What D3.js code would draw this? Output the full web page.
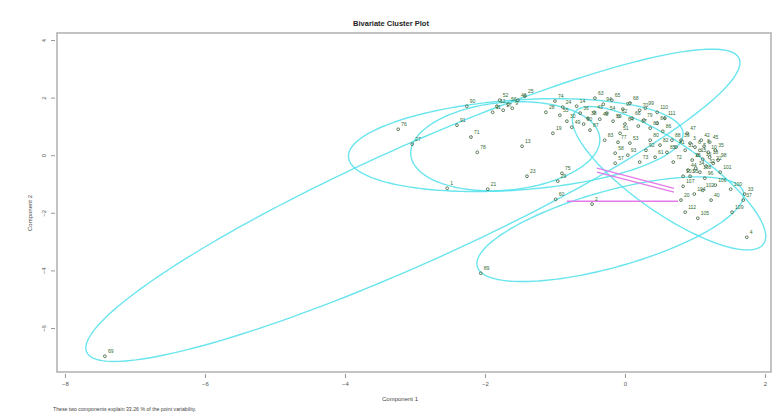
<!DOCTYPE html>
<html>
<head>
<meta charset="utf-8">
<script src="https://cdn.jsdelivr.net/npm/d3@7"></script>
<style>
  html, body { margin: 0; padding: 0; background: #fff; }
  svg { display: block; font-family: "Liberation Sans", Arial, sans-serif; }
</style>
</head>
<body>
<svg id="chart" width="782" height="419"></svg>
<script>
// Observation labels and their scores on the first two principal components
const pointLabels = ["69","76","27","90","91","71","78","1","21","13","23","29","60","2","89",
  "52","46","25","12","56","11","17","9","28","74","30","19","14","24",
  "36","38","43","48","54","59","62","64","66","67","79","81","84","86","94","97","99",
  "51","53","58","57","73","61","83","87","47","72",
  "3","6","7","8","10","15","16","18","22","26","31","32","34","35","39","41","42","44","45",
  "103","107","20","112","105","40","100","33","37","109","4",
  "49","50","55","63","65","68","70","75","77","80","82","85","88","92","93","95","96","98",
  "101","102","104","106","108","110","111"];
const comp1 = [-7.43,-3.24,-3.04,-2.26,-2.40,-2.20,-2.11,-2.54,-1.96,-1.47,-1.40,-0.96,-0.99,-0.47,-2.06,
  -1.79,-1.53,-1.43,-1.83,-1.67,-1.89,-1.74,-1.61,-1.13,-1.00,-0.83,-1.03,-0.69,-0.89,
  -0.64,-0.53,-0.44,-0.36,-0.26,-0.17,-0.09,0.00,0.10,0.19,0.27,0.36,0.46,0.54,-0.31,-0.03,0.29,
  -0.07,0.07,-0.14,-0.14,0.21,0.43,-0.29,-0.50,0.89,0.69,
  0.93,1.00,1.07,1.13,1.19,1.04,1.11,1.21,1.26,0.96,0.86,1.16,1.01,1.29,0.80,0.73,1.09,0.90,1.21,
  0.83,0.83,0.80,0.86,1.04,1.23,1.51,1.71,1.69,1.53,1.74,
  -0.76,-0.59,-0.93,-0.43,-0.19,0.07,0.21,-0.90,-0.10,0.36,0.50,0.60,0.67,0.30,0.04,0.93,1.14,1.33,
  1.36,1.11,0.99,1.29,1.07,0.46,0.57];
const comp2 = [-6.98,0.90,0.38,1.70,1.04,0.63,0.10,-1.15,-1.18,0.31,-0.73,-0.90,-1.53,-1.70,-4.10,
  1.91,1.91,2.05,1.70,1.77,1.49,1.56,1.63,1.49,1.88,1.18,0.76,1.70,1.67,
  1.46,1.28,1.49,1.25,1.46,1.18,1.35,1.08,1.28,1.01,1.22,0.94,1.11,0.83,1.77,1.60,1.63,
  0.76,0.42,0.07,-0.28,-0.24,-0.07,0.52,0.87,0.76,-0.24,
  0.42,0.28,0.17,0.31,0.10,0.00,-0.14,-0.07,-0.28,-0.17,0.17,-0.38,-0.45,0.17,0.52,0.28,0.52,-0.52,0.45,
  -0.73,-1.08,-1.56,-1.98,-2.19,-1.56,-1.18,-1.35,-1.56,-1.98,-2.85,
  0.97,1.08,1.39,1.98,1.91,1.81,1.56,-0.63,0.45,0.52,0.35,0.10,0.52,0.17,0.00,-0.73,-0.80,-0.17,
  -0.59,-1.22,-1.35,-1.04,-0.59,1.49,1.28];

// Cluster ellipses: centre and two conjugate semi-axis vectors (component units)
const ellipseCx  = [-3.03, -1.56, -1.71, 0.63, -0.21];
const ellipseCy  = [-1.74,  0.35,  0.31, -0.80, -2.57];
const ellipseAx  = [ 4.66,  2.39,  1.35, 1.35,  1.90];
const ellipseAy  = [ 5.10,  0.41,  0.29, -2.28, 1.30];
const ellipseBx  = [ 0.34,  0.04,  0.05, -0.29, 0.15];
const ellipseBy  = [-1.84, -1.56, -1.52, -1.00, -1.27];

// Segments joining separated clusters
const segX1 = [-0.40, -0.40, -0.83];
const segY1 = [-0.45, -0.59, -1.60];
const segX2 = [ 0.70,  0.70,  0.76];
const segY2 = [-1.15, -1.28, -1.60];

const xTicks = [-8, -6, -4, -2, 0, 2];
const yTicks = [4, 2, 0, -2, -4, -6];

const titleText = "Bivariate Cluster Plot";
const xTitle = "Component 1";
const yTitle = "Component 2";
const footText = "These two components explain 33.26 % of the point variability.";

const svg = d3.select("#chart");
const box = { left: 57, right: 771, top: 33, bottom: 372 };

const x = d3.scaleLinear().domain([-8.114, 2.086]).range([box.left, box.right]);
const y = d3.scaleLinear().domain([-7.528, 4.243]).range([box.bottom, box.top]);

// Title
svg.append("text")
  .attr("x", 391).attr("y", 26)
  .attr("text-anchor", "middle")
  .attr("font-size", 7.5).attr("font-weight", "bold").attr("fill", "#222")
  .text(titleText);

// Plot frame
svg.append("rect")
  .attr("x", box.left).attr("y", box.top)
  .attr("width", box.right - box.left).attr("height", box.bottom - box.top)
  .attr("fill", "none").attr("stroke", "#b4b4b4").attr("stroke-width", 1.6);

// Axes
const xAxis = d3.axisBottom(x).tickValues(xTicks).tickSize(4).tickPadding(4).tickFormat(d3.format("d"));
const gx = svg.append("g").attr("transform", `translate(0,${box.bottom + 2})`).call(xAxis);
gx.select(".domain").remove();
gx.selectAll("line").attr("stroke", "#999");
gx.selectAll("text").attr("font-size", 6).attr("fill", "#555").attr("font-family", "Liberation Sans, Arial, sans-serif");

const yAxis = d3.axisLeft(y).tickValues(yTicks).tickSize(4).tickPadding(5).tickFormat(d3.format("d"));
const gy = svg.append("g").attr("transform", `translate(${box.left - 2},0)`).call(yAxis);
gy.select(".domain").remove();
gy.selectAll("line").attr("stroke", "#999");
gy.selectAll("text")
  .attr("font-size", 6).attr("fill", "#555").attr("font-family", "Liberation Sans, Arial, sans-serif")
  .attr("text-anchor", "middle").attr("dy", null).attr("x", null)
  .attr("transform", "translate(-9,0) rotate(-90)");

// Axis titles and footnote
svg.append("text").attr("x", 400).attr("y", 401)
  .attr("text-anchor", "middle").attr("font-size", 6).attr("fill", "#444").text(xTitle);
svg.append("text").attr("transform", "translate(32,213) rotate(-90)")
  .attr("text-anchor", "middle").attr("font-size", 6).attr("fill", "#444").text(yTitle);
svg.append("text").attr("x", 53).attr("y", 411)
  .attr("font-size", 5.2).attr("fill", "#444").text(footText);

// Cluster ellipses
const plot = svg.append("g");
const tSteps = d3.range(0, 361, 2).map(d => d * Math.PI / 180);
const ellLine = d3.line().x(d => x(d[0])).y(d => y(d[1]));
ellipseCx.forEach((cx, i) => {
  const pts = tSteps.map(t => [
    cx + ellipseAx[i] * Math.cos(t) + ellipseBx[i] * Math.sin(t),
    ellipseCy[i] + ellipseAy[i] * Math.cos(t) + ellipseBy[i] * Math.sin(t)
  ]);
  plot.append("path").attr("d", ellLine(pts) + "Z")
    .attr("fill", "none").attr("stroke", "#5ae2ec").attr("stroke-width", 1.4).attr("opacity", 0.9);
});

// Connecting segments
segX1.forEach((sx, i) => {
  plot.append("line")
    .attr("x1", x(sx)).attr("y1", y(segY1[i]))
    .attr("x2", x(segX2[i])).attr("y2", y(segY2[i]))
    .attr("stroke", "#e47ae8").attr("stroke-width", 1.4);
});

// Observations with labels
const obs = pointLabels.map((lab, i) => ({ lab, c1: comp1[i], c2: comp2[i] }));
const pg = plot.selectAll("g.obs").data(obs).join("g").attr("class", "obs")
  .attr("transform", d => `translate(${x(d.c1)},${y(d.c2)})`);
pg.append("circle").attr("r", 1.4).attr("fill", "none").attr("stroke", "#4f6f4f").attr("stroke-width", 0.9);
pg.append("text").attr("x", 3).attr("y", -3)
  .attr("font-size", 5).attr("fill", "#2f6a2f").text(d => d.lab);
</script>
</body>
</html>
